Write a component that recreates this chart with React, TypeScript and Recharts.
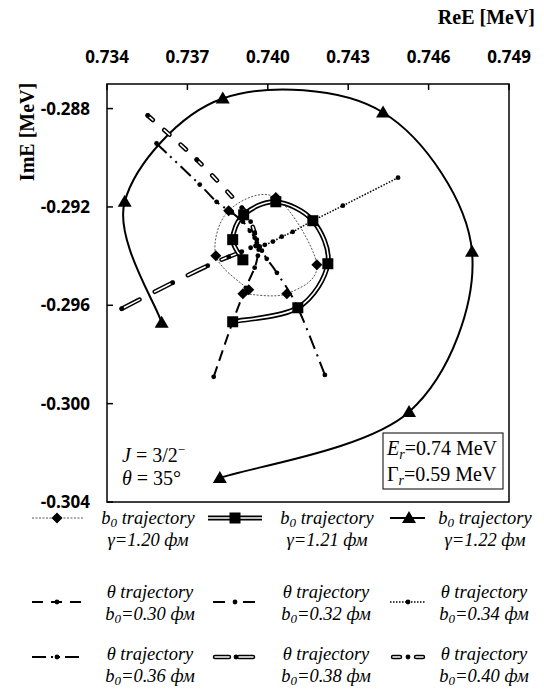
import React from "react"
import { Line, LineChart, XAxis, YAxis } from "recharts"

// Complex-energy trajectories of the J = 3/2- resonance (ReE vs ImE, MeV).
const X_TICKS = [0.734, 0.737, 0.74, 0.743, 0.746, 0.749]
const Y_TICKS = [-0.288, -0.292, -0.296, -0.3, -0.304]

// b0 trajectories at theta = 35°, [ReE, ImE]
const B0_G120: [number, number][] = [
  [0.73907, -0.29553], [0.74071, -0.29553], [0.74183, -0.29435], [0.7403, -0.29162],
  [0.73854, -0.29215], [0.73806, -0.29398], [0.73929, -0.29537],
]
const B0_G121: [number, number][] = [
  [0.73869, -0.29667], [0.74112, -0.2961], [0.74224, -0.29431], [0.74168, -0.29256],
  [0.7403, -0.29179], [0.7391, -0.29232], [0.73869, -0.29333], [0.73907, -0.29415],
]
const B0_G122: [number, number][] = [
  [0.73821, -0.30302], [0.74527, -0.30034], [0.74762, -0.29382], [0.7443, -0.28816],
  [0.73832, -0.28759], [0.73466, -0.29179], [0.73604, -0.29671],
]

// theta trajectories, outer end first
const TH_B030: [number, number][] = [
  [0.73798, -0.29891], [0.73869, -0.29667], [0.73918, -0.29529], [0.73951, -0.29447],
  [0.73963, -0.29398], [0.73966, -0.29374], [0.73963, -0.29358],
]
const TH_B032: [number, number][] = [
  [0.74213, -0.29883], [0.74112, -0.2961], [0.74034, -0.29468], [0.73996, -0.29411],
  [0.73978, -0.29378], [0.73966, -0.29362],
]
const TH_B034: [number, number][] = [
  [0.74486, -0.29081], [0.7428, -0.29195], [0.74168, -0.29256], [0.74093, -0.29301],
  [0.74052, -0.29321], [0.74019, -0.29341], [0.73989, -0.29354], [0.7397, -0.29362],
]
const TH_B036: [number, number][] = [
  [0.73585, -0.28942], [0.73746, -0.29109], [0.73809, -0.29179], [0.73866, -0.29223],
  [0.73907, -0.2926], [0.73933, -0.29297], [0.73951, -0.29325], [0.73959, -0.29346],
]
const TH_B038: [number, number][] = [
  [0.73455, -0.29614], [0.73645, -0.29508], [0.73776, -0.29439], [0.73854, -0.29403],
  [0.73903, -0.29382], [0.73936, -0.29366], [0.73955, -0.29358],
]
const TH_B040: [number, number][] = [
  [0.73552, -0.28828], [0.73735, -0.29008], [0.73903, -0.29203], [0.73936, -0.2926],
  [0.73951, -0.29305], [0.73959, -0.29333],
]

const SERIF = "'Liberation Serif', 'Times New Roman', serif"
const SANS = "'Open Sans', 'Noto Sans', sans-serif"

const toPts = (a: [number, number][]) => a.map(([x, y]) => ({ x, y }))

// Excel-like smoothed line (Catmull-Rom through every point)
function smooth(context: any) {
  let pts: number[][] = []
  return {
    areaStart() {},
    areaEnd() {},
    lineStart() {
      pts = []
    },
    point(x: number, y: number) {
      pts.push([+x, +y])
    },
    lineEnd() {
      const n = pts.length
      if (!n) return
      context.moveTo(pts[0][0], pts[0][1])
      for (let i = 0; i < n - 1; i++) {
        const p0 = pts[i > 0 ? i - 1 : i]
        const p1 = pts[i]
        const p2 = pts[i + 1]
        const p3 = pts[i + 2 < n ? i + 2 : i + 1]
        context.bezierCurveTo(
          p1[0] + (p2[0] - p0[0]) / 6,
          p1[1] + (p2[1] - p0[1]) / 6,
          p2[0] - (p3[0] - p1[0]) / 6,
          p2[1] - (p3[1] - p1[1]) / 6,
          p2[0],
          p2[1]
        )
      }
    },
  }
}

type Kind = "diamond" | "square" | "triangle" | "dot"

function Marker({ kind, x, y }: { kind: Kind; x: number; y: number }) {
  if (kind === "diamond")
    return <polygon points={`${x},${y - 5.5} ${x + 5.5},${y} ${x},${y + 5.5} ${x - 5.5},${y}`} fill="#000" />
  if (kind === "square") return <rect x={x - 5.5} y={y - 5.5} width={11} height={11} fill="#000" />
  if (kind === "triangle")
    return <polygon points={`${x},${y - 7} ${x + 7},${y + 5} ${x - 7},${y + 5}`} fill="#000" />
  return <circle cx={x} cy={y} r={2.4} fill="#000" />
}

const dotOf = (kind: Kind) => (p: any) => {
  if (p.cx == null || p.cy == null) return <g key={`m-${p.index}`} />
  return (
    <g key={`m-${p.index}`}>
      <Marker kind={kind} x={p.cx} y={p.cy} />
    </g>
  )
}

// line styles of the theta trajectories
const TH_STYLE = {
  b030: { dash: "11 6", width: 2 },
  b032: { dash: "14 6 2 6", width: 2 },
  b034: { dash: "1.5 1.5", width: 1.5 },
  b036: { dash: "14 5 2 5 2 5", width: 2 },
  b038: { dash: "20 17" },
  b040: { dash: "7 15" },
}

function LegendText({ x, y, first, second }: { x: number; y: number; first: React.ReactNode; second: React.ReactNode }) {
  return (
    <g fontFamily={SERIF} fontStyle="italic" fontSize={18.5} textAnchor="middle" fill="#000">
      <text x={x} y={y}>{first}</text>
      <text x={x} y={y + 22}>{second}</text>
    </g>
  )
}

const b0 = (rest: string) => (
  <>
    b<tspan fontSize={13} dy={3}>0</tspan>
    <tspan dy={-3}>{rest}</tspan>
  </>
)

function Overlay() {
  const row1 = 518
  const row2 = 602
  const row3 = 657
  return (
    <svg width={544} height={691} style={{ position: "absolute", left: 0, top: 0, pointerEvents: "none" }}>
      <rect x={107} y={84} width={402} height={418} fill="none" stroke="#000" strokeWidth={1.5} />
      <text x={535} y={24} textAnchor="end" fontFamily={SERIF} fontWeight={700} fontSize={20}>
        ReE [MeV]
      </text>
      <text
        transform="translate(27,132) rotate(-90)"
        textAnchor="middle"
        dominantBaseline="central"
        fontFamily={SERIF}
        fontWeight={700}
        fontSize={20}
      >
        ImE [MeV]
      </text>

      <g fontFamily={SERIF} fontSize={20} fill="#000">
        <text x={122} y={462}>
          <tspan fontStyle="italic">J</tspan>
          <tspan dx={5}>=</tspan>
          <tspan dx={5}>3/2</tspan>
          <tspan dy={-8} fontSize={13}>−</tspan>
        </text>
        <text x={122} y={485}>
          <tspan fontStyle="italic">θ</tspan>
          <tspan dx={5}>=</tspan>
          <tspan dx={5}>35°</tspan>
        </text>
        <rect x={383} y={433} width={120} height={56} fill="#fff" stroke="#000" strokeWidth={1} />
        <text x={387} y={455}>
          <tspan fontStyle="italic">E</tspan>
          <tspan fontStyle="italic" fontSize={14} dy={4}>r</tspan>
          <tspan dy={-4}>=0.74 MeV</tspan>
        </text>
        <text x={387} y={481}>
          Γ<tspan fontStyle="italic" fontSize={14} dy={4}>r</tspan>
          <tspan dy={-4}>=0.59 MeV</tspan>
        </text>
      </g>

      {/* legend samples */}
      <line x1={32} x2={83} y1={row1} y2={row1} stroke="#555" strokeWidth={1} strokeDasharray="2 1.5" />
      <Marker kind="diamond" x={57} y={row1} />
      <line x1={208} x2={262} y1={row1} y2={row1} stroke="#000" strokeWidth={5} />
      <line x1={208} x2={262} y1={row1} y2={row1} stroke="#fff" strokeWidth={1.6} />
      <Marker kind="square" x={235} y={row1} />
      <line x1={390} x2={425} y1={row1} y2={row1} stroke="#000" strokeWidth={2} />
      <Marker kind="triangle" x={409} y={row1} />

      <line x1={32} x2={83} y1={row2} y2={row2} stroke="#000" strokeWidth={2} strokeDasharray="11 8" />
      <Marker kind="dot" x={57} y={row2} />
      <line x1={213} x2={258} y1={row2} y2={row2} stroke="#000" strokeWidth={2} strokeDasharray="12 8 2 8" />
      <Marker kind="dot" x={235} y={row2} />
      <line x1={390} x2={425} y1={row2} y2={row2} stroke="#000" strokeWidth={1.5} strokeDasharray="1.5 1.5" />
      <Marker kind="dot" x={408} y={row2} />

      <line x1={32} x2={83} y1={row3} y2={row3} stroke="#000" strokeWidth={2} strokeDasharray="14 5 2 5 2 5" />
      <Marker kind="dot" x={57} y={row3} />
      <line x1={215} x2={258} y1={row3} y2={row3} stroke="#000" strokeWidth={4.5} strokeLinecap="round" strokeDasharray="14 10" />
      <line x1={215} x2={258} y1={row3} y2={row3} stroke="#fff" strokeWidth={1.6} strokeLinecap="round" strokeDasharray="14 10" />
      <Marker kind="dot" x={236} y={row3} />
      <line x1={393} x2={425} y1={row3} y2={row3} stroke="#000" strokeWidth={4.5} strokeLinecap="round" strokeDasharray="7 16" />
      <line x1={393} x2={425} y1={row3} y2={row3} stroke="#fff" strokeWidth={1.6} strokeLinecap="round" strokeDasharray="7 16" />
      <Marker kind="dot" x={408} y={row3} />

      <LegendText x={148} y={524} first={b0(" trajectory")} second="γ=1.20 фм" />
      <LegendText x={327} y={524} first={b0(" trajectory")} second="γ=1.21 фм" />
      <LegendText x={485} y={524} first={b0(" trajectory")} second="γ=1.22 фм" />
      <LegendText x={150} y={598} first="θ trajectory" second={b0("=0.30 фм")} />
      <LegendText x={326} y={598} first="θ trajectory" second={b0("=0.32 фм")} />
      <LegendText x={484} y={598} first="θ trajectory" second={b0("=0.34 фм")} />
      <LegendText x={150} y={660} first="θ trajectory" second={b0("=0.36 фм")} />
      <LegendText x={326} y={660} first="θ trajectory" second={b0("=0.38 фм")} />
      <LegendText x={484} y={660} first="θ trajectory" second={b0("=0.40 фм")} />
    </svg>
  )
}

const tickStyle = { fontSize: 17, fontWeight: 700, fill: "#000", fontFamily: SANS }

export default function App() {
  const common = { dataKey: "y", type: smooth as any, isAnimationActive: false, activeDot: false }
  return (
    <div style={{ position: "absolute", left: 0, top: 0, width: 544, height: 691, background: "#fff" }}>
      <LineChart width={544} height={691} margin={{ top: 54, right: 35, bottom: 189, left: 47 }}>
        <XAxis
          type="number"
          dataKey="x"
          orientation="top"
          height={30}
          domain={[0.734, 0.749]}
          ticks={X_TICKS}
          allowDataOverflow
          axisLine={false}
          tickSize={-6}
          tickMargin={27}
          tickLine={{ stroke: "#000", strokeWidth: 1.5 }}
          tick={tickStyle}
          tickFormatter={(v: number) => v.toFixed(3)}
        />
        <YAxis
          type="number"
          dataKey="y"
          width={60}
          domain={[-0.304, -0.287]}
          ticks={Y_TICKS}
          allowDataOverflow
          axisLine={false}
          tickSize={-6}
          tickMargin={23}
          tickLine={{ stroke: "#000", strokeWidth: 1.5 }}
          tick={tickStyle}
          tickFormatter={(v: number) => v.toFixed(3)}
        />

        <Line {...common} data={toPts(B0_G122)} stroke="#000" strokeWidth={2} dot={dotOf("triangle")} />

        <Line {...common} data={toPts(TH_B030)} stroke="#000" strokeWidth={TH_STYLE.b030.width} strokeDasharray={TH_STYLE.b030.dash} dot={dotOf("dot")} />
        <Line {...common} data={toPts(TH_B032)} stroke="#000" strokeWidth={TH_STYLE.b032.width} strokeDasharray={TH_STYLE.b032.dash} dot={dotOf("dot")} />
        <Line {...common} data={toPts(TH_B034)} stroke="#000" strokeWidth={TH_STYLE.b034.width} strokeDasharray={TH_STYLE.b034.dash} dot={dotOf("dot")} />
        <Line {...common} data={toPts(TH_B036)} stroke="#000" strokeWidth={TH_STYLE.b036.width} strokeDasharray={TH_STYLE.b036.dash} dot={dotOf("dot")} />
        <Line {...common} data={toPts(TH_B038)} stroke="#000" strokeWidth={4.5} strokeLinecap="round" strokeDasharray={TH_STYLE.b038.dash} dot={false} />
        <Line {...common} data={toPts(TH_B038)} stroke="#fff" strokeWidth={1.6} strokeLinecap="round" strokeDasharray={TH_STYLE.b038.dash} dot={dotOf("dot")} />
        <Line {...common} data={toPts(TH_B040)} stroke="#000" strokeWidth={4.5} strokeLinecap="round" strokeDasharray={TH_STYLE.b040.dash} dot={false} />
        <Line {...common} data={toPts(TH_B040)} stroke="#fff" strokeWidth={1.6} strokeLinecap="round" strokeDasharray={TH_STYLE.b040.dash} dot={dotOf("dot")} />

        <Line {...common} data={toPts(B0_G120)} stroke="#555" strokeWidth={1} strokeDasharray="2 1.5" dot={dotOf("diamond")} />

        <Line {...common} data={toPts(B0_G121)} stroke="#000" strokeWidth={5} dot={false} />
        <Line {...common} data={toPts(B0_G121)} stroke="#fff" strokeWidth={1.6} dot={dotOf("square")} />
      </LineChart>
      <Overlay />
    </div>
  )
}
